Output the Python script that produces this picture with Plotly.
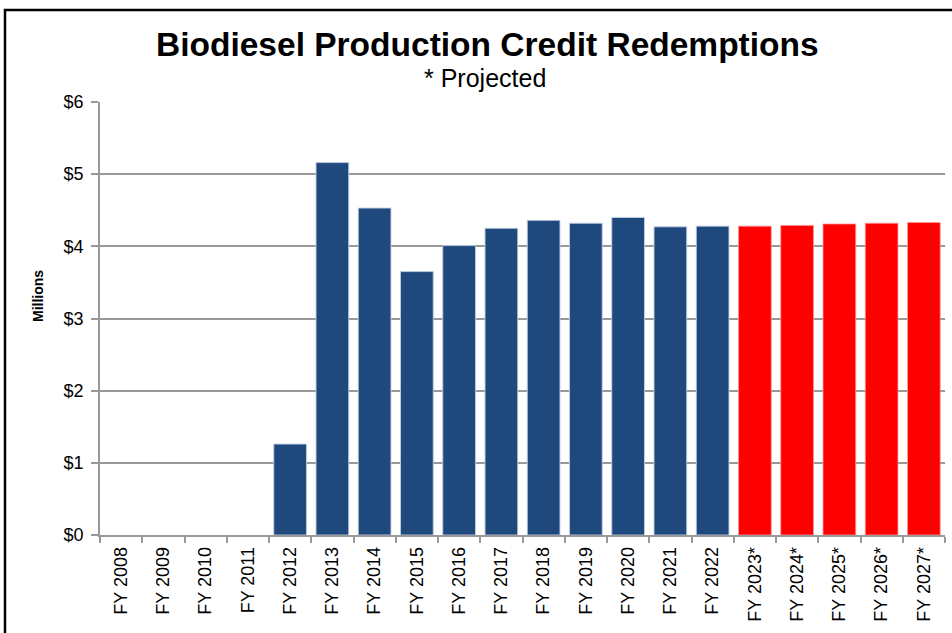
import plotly.graph_objects as go

categories = ["FY 2008", "FY 2009", "FY 2010", "FY 2011", "FY 2012", "FY 2013", "FY 2014",
              "FY 2015", "FY 2016", "FY 2017", "FY 2018", "FY 2019", "FY 2020", "FY 2021",
              "FY 2022", "FY 2023*", "FY 2024*", "FY 2025*", "FY 2026*", "FY 2027*"]
values = [0, 0, 0, 0, 1.26, 5.16, 4.53, 3.65, 4.01, 4.25, 4.36, 4.32, 4.40, 4.27,
          4.28, 4.28, 4.29, 4.31, 4.32, 4.33]
actual_color = "#1F497D"
projected_color = "#FF0000"

colors = [projected_color if c.endswith("*") else actual_color for c in categories]
edge = ["rgba(255,150,150,0.8)" if c.endswith("*") else "rgba(190,205,225,0.9)" for c in categories]
edge_w = [1 if v > 0 else 0 for v in values]

fig = go.Figure(go.Bar(
    x=categories, y=values,
    marker=dict(color=colors, line=dict(color=edge, width=edge_w)),
))

W, H = 952, 633
L, R, T, B = 100, 7, 102, 98
pw, ph = W - L - R, H - T - B


def px_x(p):
    return (p - L) / pw


def px_y(p):
    return (H - B - p) / ph


grey = "#999999"

fig.update_layout(
    width=W, height=H,
    margin=dict(l=L, r=R, t=T, b=B),
    paper_bgcolor="white", plot_bgcolor="white",
    font=dict(family="Liberation Sans, Arial, sans-serif", color="black"),
    bargap=0.226,
    showlegend=False,
    xaxis=dict(
        type="category",
        tickangle=-90,
        tickfont=dict(size=18, color="black"),
        ticks="outside", ticklen=6, tickcolor=grey, tickwidth=1.5,
        ticklabelstandoff=3,
        tickson="boundaries",
        showline=True, linecolor=grey, linewidth=1.5,
        showgrid=False,
    ),
    yaxis=dict(
        range=[0, 6], dtick=1,
        tickprefix="$", tickformat="d",
        tickfont=dict(size=18, color="black"),
        ticks="outside", ticklen=7, tickcolor=grey, tickwidth=1.5,
        ticklabelstandoff=4,
        showline=True, linecolor=grey, linewidth=1.5,
        showgrid=True, gridcolor=grey, gridwidth=1.5,
        zeroline=False,
    ),
    annotations=[
        dict(text="<b>Biodiesel Production Credit Redemptions</b>", xref="paper", yref="paper",
             x=px_x(487), y=px_y(45), xanchor="center", yanchor="middle", showarrow=False,
             font=dict(size=33.5, color="black")),
        dict(text="* Projected", xref="paper", yref="paper",
             x=px_x(485), y=px_y(78), xanchor="center", yanchor="middle", showarrow=False,
             font=dict(size=25, color="black")),
        dict(text="<b>Millions</b>", xref="paper", yref="paper",
             x=px_x(38), y=px_y(296), xanchor="center", yanchor="middle", showarrow=False,
             textangle=-90, font=dict(size=14, color="black")),
    ],
    shapes=[
        dict(type="rect", xref="paper", yref="paper",
             x0=px_x(5), x1=px_x(960), y0=px_y(645), y1=px_y(10),
             line=dict(color="black", width=2.5), fillcolor="rgba(0,0,0,0)", layer="above"),
    ],
)

fig.write_html("out.html", config={"displayModeBar": False},
               post_script="document.body.style.margin='0px';")
